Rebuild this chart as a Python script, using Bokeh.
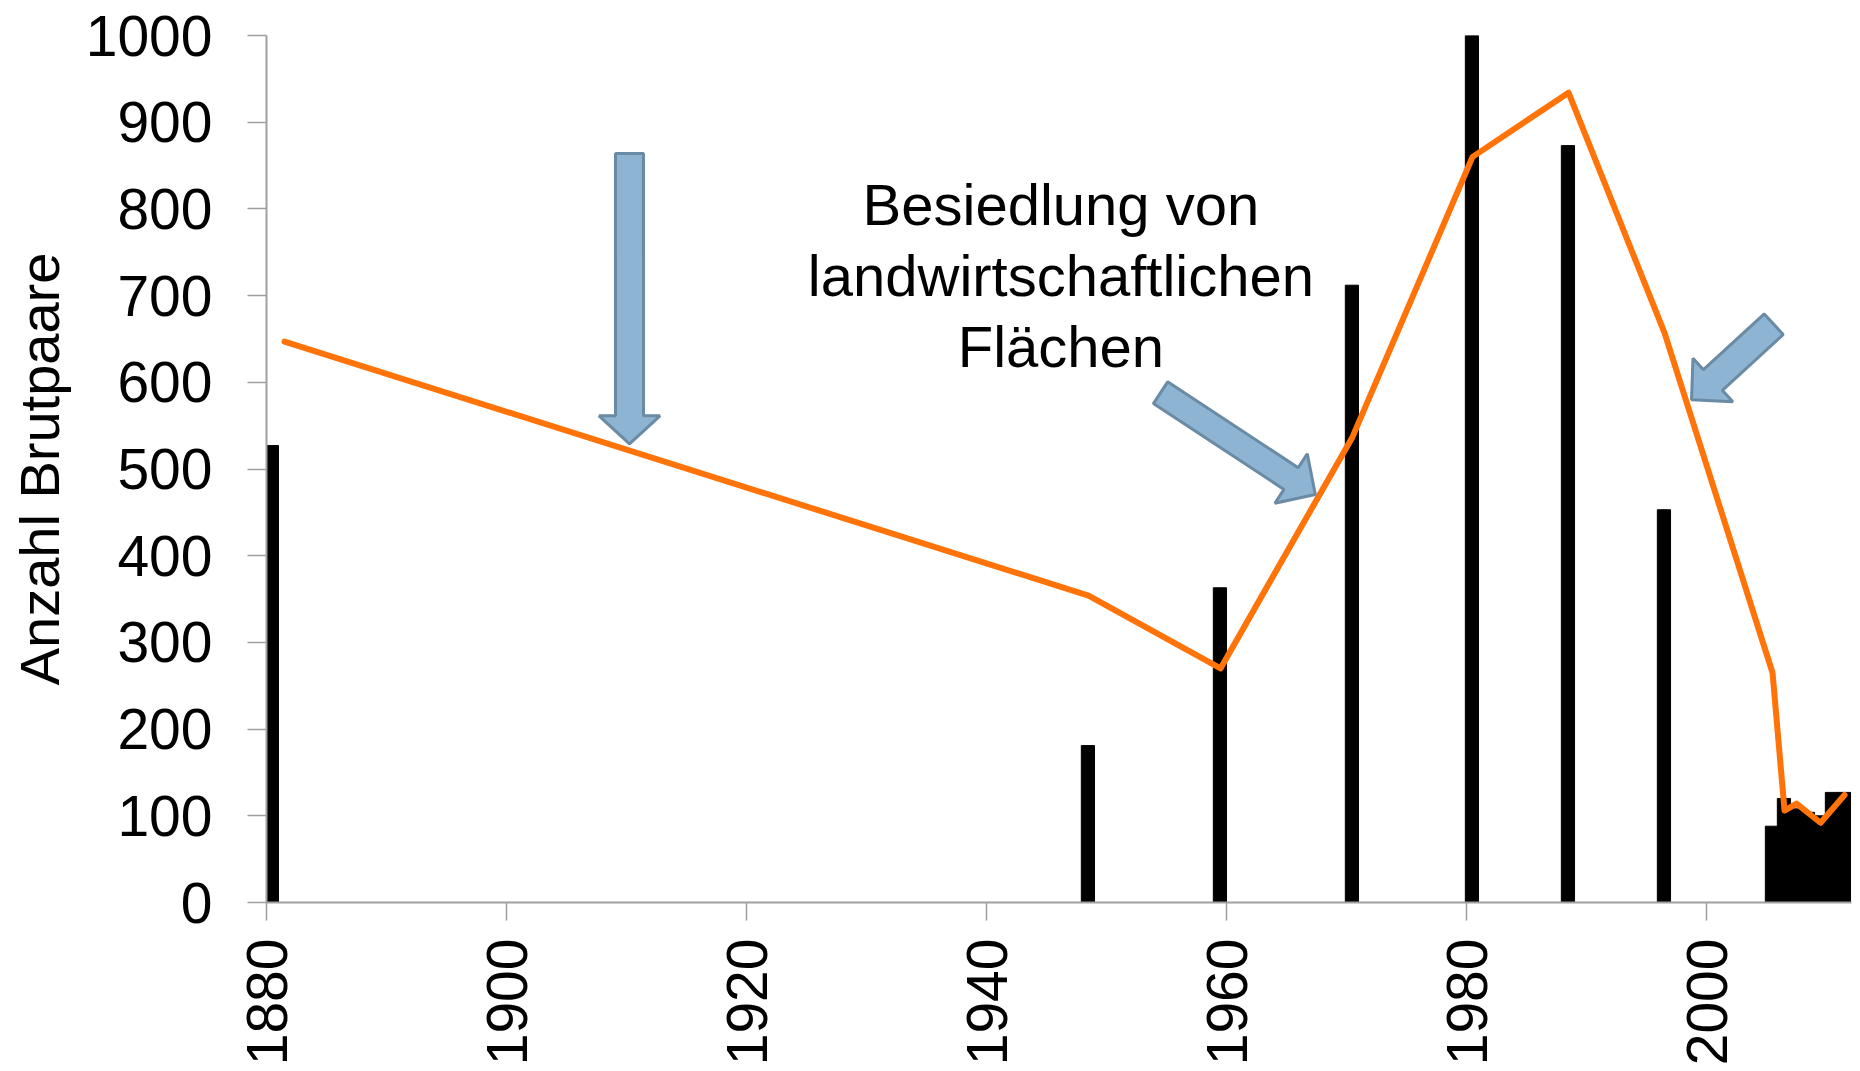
import math
from bokeh.plotting import figure
from bokeh.models import Range1d, FixedTicker, ColumnDataSource
from bokeh.core.properties import value
from bokeh.embed import file_html
from bokeh.resources import INLINE

# ---------------- data ----------------
bar_years = [1880, 1948, 1959, 1970, 1980, 1988, 1996, 2005, 2006, 2007, 2008, 2009, 2010, 2011]
bar_values = [527, 181, 363, 712, 1000, 873, 453, 88, 120, 108, 104, 100, 127, 127]

line_years = [1881, 1948, 1959, 1970, 1980, 1988, 1996, 2005, 2006, 2007, 2009, 2011]
line_values = [647, 354, 270, 537, 860, 934, 657, 265, 106, 114, 92, 124]

x_ticks = [1880, 1900, 1920, 1940, 1960, 1980, 2000]
y_ticks = [0, 100, 200, 300, 400, 500, 600, 700, 800, 900, 1000]

y_title = "Anzahl Brutpaare"
annotation_lines = ["Besiedlung von", "landwirtschaftlichen", "Flächen"]

# ---------------- layout ----------------
FONT = "Liberation Sans"
W, H = 1860, 1071
ML, MR, MT, MB = 266, 9, 35, 169
FW, FH = W - ML - MR, H - MT - MB
X0, X1 = 1880, 2012.08
Y0, Y1 = 0, 1000
kx = FW / (X1 - X0)
ky = FH / (Y1 - Y0)

p = figure(width=W, height=H, x_range=Range1d(X0, X1), y_range=Range1d(Y0, Y1),
           output_backend="svg", toolbar_location=None,
           min_border_left=ML, min_border_right=MR, min_border_top=MT, min_border_bottom=MB)
p.outline_line_color = None
p.xgrid.visible = False
p.ygrid.visible = False
p.background_fill_color = "white"
p.border_fill_color = "white"

# bars (Excel date axis: bars sit in the middle of their year)
bars = ColumnDataSource(dict(x=[y + 0.45 for y in bar_years], top=bar_values))
p.vbar(x="x", top="top", width=1.1, bottom=0, source=bars,
       fill_color="black", line_color="black", line_width=1)

# orange line
ln = ColumnDataSource(dict(x=[y + 0.5 for y in line_years], y=line_values))
p.line(x="x", y="y", source=ln, line_color="#FF7308", line_width=6,
       line_join="round", line_cap="round")

# block arrows (annotation shapes, specified by tail/tip in data space)
def block_arrow(tail, tip, shaft, head_w, head_len):
    tx, ty = tail[0] * kx, -tail[1] * ky
    hx, hy = tip[0] * kx, -tip[1] * ky
    dx, dy = hx - tx, hy - ty
    L = math.hypot(dx, dy)
    ux, uy = dx / L, dy / L
    nx, ny = -uy, ux
    bx, by = hx - ux * head_len, hy - uy * head_len
    pts = [
        (tx + nx * shaft / 2, ty + ny * shaft / 2),
        (bx + nx * shaft / 2, by + ny * shaft / 2),
        (bx + nx * head_w / 2, by + ny * head_w / 2),
        (hx, hy),
        (bx - nx * head_w / 2, by - ny * head_w / 2),
        (bx - nx * shaft / 2, by - ny * shaft / 2),
        (tx - nx * shaft / 2, ty - ny * shaft / 2),
    ]
    return [q[0] / kx for q in pts], [-q[1] / ky for q in pts]

arrow_specs = [
    ((1910.25, 864), (1910.25, 529), 28, 61, 28),
    ((1954.5, 588), (1967.4, 470.6), 26, 59, 29),
    ((2005.6, 667), (1998.75, 580), 28, 59, 29),
]
axs, ays = [], []
for t, h, s, hw, hl in arrow_specs:
    xs, ys = block_arrow(t, h, s, hw, hl)
    axs.append(xs)
    ays.append(ys)
p.patches(xs=axs, ys=ays, fill_color="#8DB4D3", line_color="#6A8BA3", line_width=3)

# annotation text
txt = ColumnDataSource(dict(x=[1946.2] * 3, y=[805, 723, 641], t=annotation_lines))
p.text(x="x", y="y", text="t", source=txt, text_align="center", text_baseline="middle",
       text_font=value(FONT), text_font_size="58px", text_color="black")

# axes
ax_col = "#A0A0A0"
p.yaxis.ticker = FixedTicker(ticks=y_ticks)
p.xaxis.ticker = FixedTicker(ticks=x_ticks)
for ax in (p.xaxis[0], p.yaxis[0]):
    ax.axis_line_color = ax_col
    ax.axis_line_width = 2
    ax.major_tick_line_color = ax_col
    ax.major_tick_line_width = 1.5
    ax.major_tick_in = 0
    ax.minor_tick_line_color = None
    ax.major_label_text_font = FONT
    ax.major_label_text_font_size = "57px"
    ax.major_label_text_color = "black"

p.yaxis.major_tick_out = 19
p.yaxis.major_label_standoff = 35
p.yaxis.axis_label = y_title
p.yaxis.axis_label_text_font = FONT
p.yaxis.axis_label_text_font_size = "56px"
p.yaxis.axis_label_text_font_style = "normal"
p.yaxis.axis_label_text_color = "black"
p.yaxis.axis_label_standoff = 12

p.xaxis.major_tick_out = 18
p.xaxis.major_label_standoff = 18
p.xaxis.major_label_orientation = math.pi / 2

open("out.html", "w").write(file_html(p, INLINE))
